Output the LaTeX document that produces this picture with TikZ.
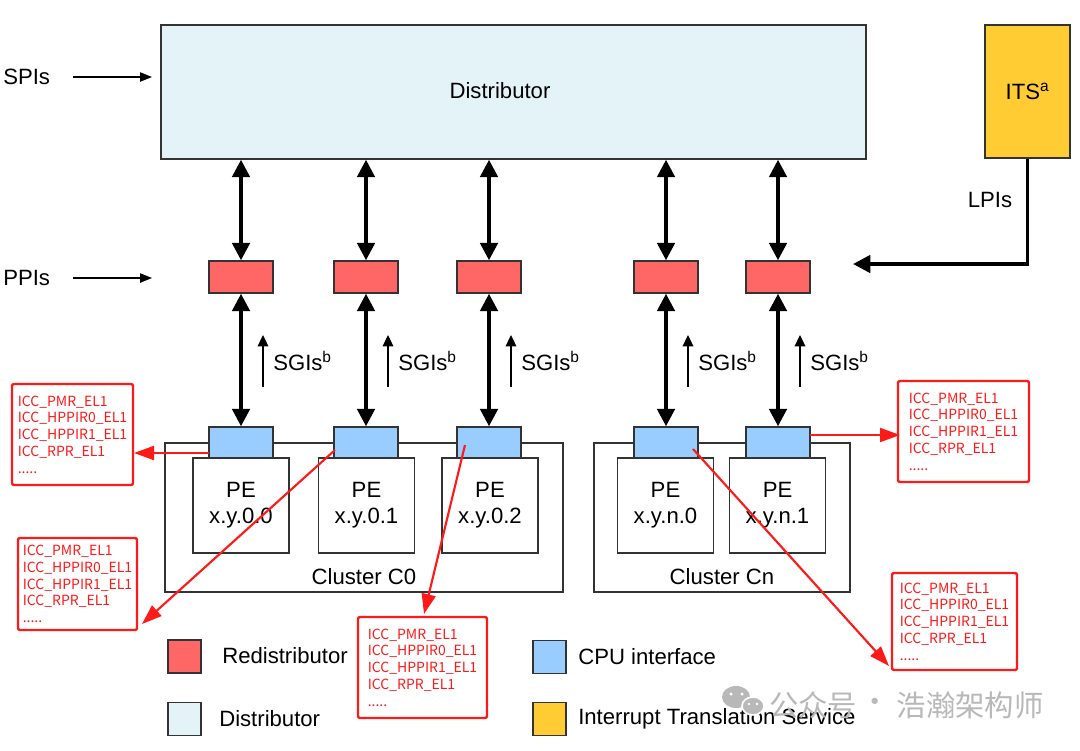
\documentclass[tikz,border=0pt]{standalone}
\usepackage{fontspec}
\setmainfont{Liberation Sans}
\newfontfamily\regfont{Noto Sans CJK SC}
\usetikzlibrary{arrows.meta}
\definecolor{distfill}{HTML}{E4F3F7}
\definecolor{itsfill}{HTML}{FFCC33}
\definecolor{redifill}{HTML}{FF6666}
\definecolor{cpufill}{HTML}{99CCFF}
\definecolor{edge}{HTML}{333333}
\definecolor{regred}{HTML}{FF1A1A}
\definecolor{wmgray}{HTML}{B8B8B8}
\newcommand{\regtext}{ICC\_PMR\_EL1\\ICC\_HPPIR0\_EL1\\ICC\_HPPIR1\_EL1\\ICC\_RPR\_EL1\\.....}
\tikzset{
  mainfont/.style={font=\fontsize{16.6}{19.5}\selectfont},
  blockbox/.style={draw=edge, line width=1.1pt, inner sep=0pt, mainfont},
  redibox/.style={blockbox, fill=redifill, minimum width=48pt, minimum height=24pt},
  cpubox/.style={blockbox, fill=cpufill, minimum width=48pt, minimum height=23.25pt},
  pebox/.style={blockbox, fill=white, minimum width=72pt, minimum height=71.25pt, align=center},
  clusterbox/.style={blockbox, fill=white, minimum height=111.75pt},
  legendsq/.style={blockbox, minimum width=24.75pt, minimum height=24.75pt},
  lbl/.style={inner sep=0pt, mainfont},
  dblarrow/.style={line width=2.7pt, {Triangle[length=13pt,width=13pt]}-{Triangle[length=13pt,width=13pt]}},
  inarrow/.style={line width=1pt, -{Triangle[length=9pt,width=7pt]}},
  sgiarrow/.style={line width=0.8pt, -{Triangle[length=8.5pt,width=8pt]}},
  lpiarrow/.style={line width=2.7pt, -{Triangle[length=13pt,width=13pt]}},
  regbox/.style={draw=regred, line width=1.8pt, rounded corners=1.5pt, fill=white, text=regred,
    align=left, inner sep=0pt, font=\regfont\fontsize{10.5}{12.6}\selectfont},
  regarrow/.style={draw=regred, line width=1.6pt, -{Triangle[length=15pt,width=10.5pt]}},
  wmtext/.style={inner sep=0pt, text=wmgray, font=\regfont\fontsize{22}{24}\selectfont}
}
\begin{document}
\begin{tikzpicture}[x=0.75pt,y=-0.75pt]
\useasboundingbox (0,0) rectangle (1080,750);
\fill[white] (0,0) rectangle (1080,750);

% Distributor and ITS
\node[blockbox, fill=distfill, minimum width=528.75pt, minimum height=100.5pt] (dist) at (513.5,92) {};
\node[lbl] (distlbl) at (500,91) {Distributor};
\node[blockbox, fill=itsfill, minimum width=63.75pt, minimum height=99.75pt] (its) at (1027.5,91.5) {ITS\textsuperscript{a}};

% input labels
\node[lbl, anchor=west] (spis) at (3,77) {SPIs};
\node[lbl, anchor=west] (ppis) at (3,278) {PPIs};
\coordinate (spiS) at (73,77);
\coordinate (spiE) at (152,77);
\coordinate (ppiS) at (73,278);
\coordinate (ppiE) at (152,278);
\draw[inarrow] (spiS) -- (spiE);
\draw[inarrow] (ppiS) -- (ppiE);

% Clusters
\node[clusterbox, minimum width=298.5pt] (cl0) at (364,517.5) {};
\node[clusterbox, minimum width=192pt] (cln) at (722,517.5) {};
\node[lbl] (cl0lbl) at (364,577) {Cluster C0};
\node[lbl] (clnlbl) at (722,577) {Cluster Cn};

% PEs
\node[pebox] (pe1) at (241,505.5) {PE\\x.y.0.0};
\node[pebox] (pe2) at (366.5,505.5) {PE\\x.y.0.1};
\node[pebox] (pe3) at (490,505.5) {PE\\x.y.0.2};
\node[pebox] (pe4) at (665.5,505.5) {PE\\x.y.n.0};
\node[pebox] (pe5) at (777.5,505.5) {PE\\x.y.n.1};

% Redistributors and CPU interfaces
\foreach \i/\x in {1/241,2/366,3/489,4/666,5/778}{
  \node[redibox] (r\i) at (\x,277) {};
  \node[cpubox] (c\i) at (\x,442.5) {};
  \draw[dblarrow] (r\i |- dist.south) -- (r\i.north);
  \draw[dblarrow] (r\i.south) -- (c\i.north);
  \coordinate (sgiS\i) at (\x+22,387);
  \coordinate (sgiE\i) at (\x+22,335);
  \draw[sgiarrow] (sgiS\i) -- (sgiE\i);
  \node[lbl, anchor=west] (sgi\i) at (\x+32,361) {SGIs\textsuperscript{b}};
}

% LPIs
\coordinate (lpiE) at (853,264);
\draw[lpiarrow] (its.south) |- (lpiE);
\node[lbl] (lpis) at (990,200) {LPIs};

% Legend
\node[legendsq, fill=redifill] (lg1) at (184.5,656.5) {};
\node[lbl, anchor=west] (lg1t) at (222,656) {Redistributor};
\node[legendsq, fill=distfill] (lg2) at (184.5,719) {};
\node[lbl, anchor=west] (lg2t) at (219,719) {Distributor};
\node[legendsq, fill=cpufill] (lg3) at (549.5,657) {};
\node[lbl, anchor=west] (lg3t) at (578,657) {CPU interface};
\node[legendsq, fill=itsfill] (lg4) at (549.5,719) {};
\node[lbl, anchor=west] (lg4t) at (578,719) {Interrupt Translation Service};

% Register boxes
\node[regbox, minimum width=90.75pt, minimum height=75.75pt] (rA) at (72.5,434.5) {\regtext};
\node[regbox, minimum width=89.25pt, minimum height=69pt] (rB) at (77.5,584) {\regtext};
\node[regbox, minimum width=96.75pt, minimum height=75.75pt] (rC) at (422.5,667.5) {\regtext};
\node[regbox, minimum width=98.25pt, minimum height=75.75pt] (rD) at (963.5,431.5) {\regtext};
\node[regbox, minimum width=93.75pt, minimum height=72.75pt] (rE) at (954.5,621.5) {\regtext};

% Red arrows
\coordinate (aS) at (209,453);
\coordinate (aE) at (134,453);
\coordinate (bS) at (335,450);
\coordinate (bE) at (142,624);
\coordinate (cS) at (465,445);
\coordinate (cE) at (424,614);
\coordinate (dS) at (810,435);
\coordinate (dE) at (900,435);
\coordinate (eS) at (693,449);
\coordinate (eE) at (889,666);
\draw[regarrow] (aS) -- (aE);
\draw[regarrow] (bS) -- (bE);
\draw[regarrow] (cS) -- (cE);
\draw[regarrow] (dS) -- (dE);
\draw[regarrow] (eS) -- (eE);

% Watermark
\fill[wmgray] (736,697) ellipse [x radius=10.5pt, y radius=8.25pt];
\fill[white] (731,694) circle [radius=1.3pt];
\fill[white] (742,694) circle [radius=1.3pt];
\draw[white, line width=1.2pt, fill=wmgray] (753,706) ellipse [x radius=8.25pt, y radius=6.75pt];
\fill[white] (749,704) circle [radius=1pt];
\fill[white] (757,704) circle [radius=1pt];
\node[wmtext] (wm1) at (813,705) {公众号};
\node[wmtext] (wm2) at (875,705) {·};
\node[wmtext] (wm3) at (970,705) {浩瀚架构师};
\end{tikzpicture}
\end{document}
